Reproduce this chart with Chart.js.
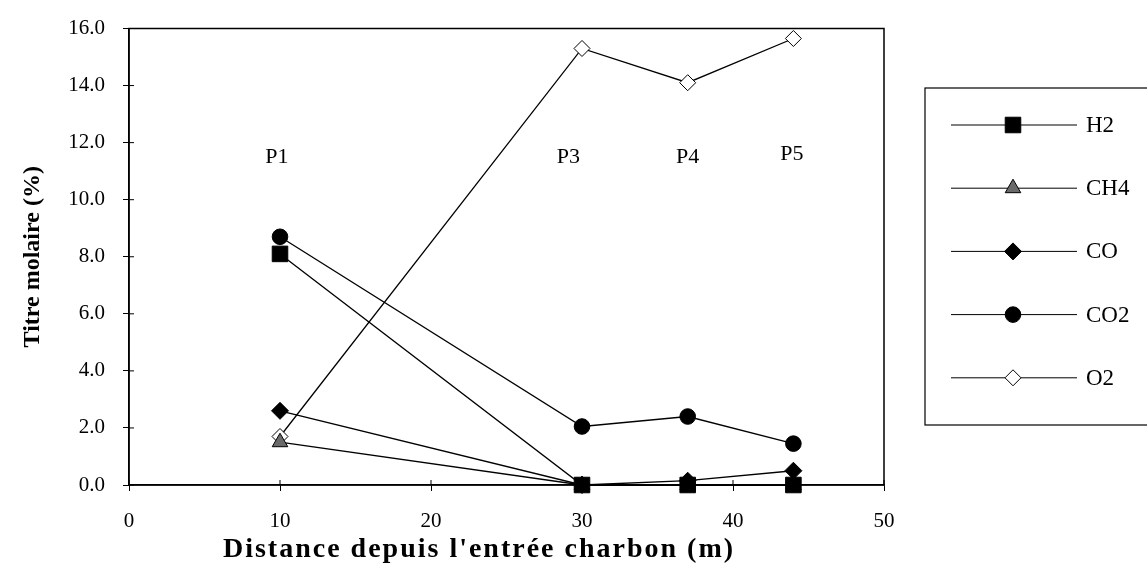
<!DOCTYPE html>
<html>
<head>
<meta charset="utf-8">
<script src="https://cdn.jsdelivr.net/npm/chart.js@4/dist/chart.umd.min.js"></script>
<style>
  html, body { margin: 0; padding: 0; background: #fff; }
  #wrap { width: 1147px; height: 580px; }
</style>
</head>
<body>
<div id="wrap"><canvas id="grafica-gaz"></canvas></div>
<script>
// Données
const distances = [10, 30, 37, 44];
const serieH2 = [8.1, 0, 0, 0];
const serieCH4 = [1.5, 0, 0, 0];
const serieCO = [2.6, 0, 0.15, 0.5];
const serieCO2 = [8.7, 2.05, 2.4, 1.45];
const serieO2 = [1.7, 15.3, 14.1, 15.65];
const nomsSeries = ['H2', 'CH4', 'CO', 'CO2', 'O2'];

// Étiquettes des points de prélèvement (coordonnées en unités du graphique)
const etiquettesP = ['P1', 'P3', 'P4', 'P5'];
const etiquettesPX = [9.8, 29.1, 37.0, 43.9];
const etiquettesPY = [11.5, 11.5, 11.5, 11.6];

const titreX = "Distance depuis l'entrée charbon (m)";
const POLICE = "'Liberation Serif', 'DejaVu Serif', serif";

function versPoints(valeurs) {
    return distances.map((d, i) => ({ x: d, y: valeurs[i] }));
}

const styles = [
    { style: 'rect', rayon: 11, fond: '#000' },
    { style: 'triangle', rayon: 9, fond: '#6a6a6a' },
    { style: 'rectRot', rayon: 8.5, fond: '#000' },
    { style: 'circle', rayon: 7.8, fond: '#000' },
    { style: 'rectRot', rayon: 8, fond: '#fff' }
];
const series = [serieH2, serieCH4, serieCO, serieCO2, serieO2];

const datasets = series.map((s, i) => ({
    label: nomsSeries[i],
    data: versPoints(s),
    borderColor: '#000',
    borderWidth: 1.3,
    pointStyle: styles[i].style,
    pointRadius: styles[i].rayon,
    pointBackgroundColor: styles[i].fond,
    pointBorderColor: '#000',
    pointBorderWidth: 1,
    fill: false,
    tension: 0,
    clip: false
}));

// Cadre autour de la zone de tracé + étiquettes P1..P5 + titre X + légende encadrée
const pluginDecor = {
    id: 'decor',
    afterDraw(chart) {
        const ctx = chart.ctx;
        const zone = chart.chartArea;
        const sx = chart.scales.x, sy = chart.scales.y;
        ctx.save();
        ctx.strokeStyle = '#000';
        ctx.lineWidth = 1.5;
        ctx.strokeRect(zone.left, zone.top, zone.right - zone.left, zone.bottom - zone.top);

        // petites marques vers l'intérieur
        ctx.lineWidth = 1;
        sy.ticks.forEach(t => {
            const y = sy.getPixelForValue(t.value);
            ctx.beginPath(); ctx.moveTo(zone.left, y); ctx.lineTo(zone.left + 5, y); ctx.stroke();
        });
        sx.ticks.forEach(t => {
            const x = sx.getPixelForValue(t.value);
            ctx.beginPath(); ctx.moveTo(x, zone.bottom); ctx.lineTo(x, zone.bottom - 5); ctx.stroke();
        });

        ctx.fillStyle = '#000';
        ctx.font = '22px ' + POLICE;
        ctx.textAlign = 'center';
        ctx.textBaseline = 'middle';
        etiquettesP.forEach((txt, i) => {
            ctx.fillText(txt, sx.getPixelForValue(etiquettesPX[i]), sy.getPixelForValue(etiquettesPY[i]));
        });

        // titre de l'axe X
        ctx.save();
        ctx.font = 'bold 28px ' + POLICE;
        ctx.letterSpacing = '2px';
        ctx.fillText(titreX, 479, 550);
        ctx.restore();

        // légende
        const boite = { x: 925, y: 88, w: 240, h: 337 };
        ctx.lineWidth = 1.2;
        ctx.strokeRect(boite.x, boite.y, boite.w, boite.h);
        const pas = 63.2;
        ctx.font = '23px ' + POLICE;
        ctx.textAlign = 'left';
        chart.data.datasets.forEach((ds, i) => {
            const y = 125 + i * pas;
            ctx.lineWidth = 1;
            ctx.strokeStyle = '#000';
            ctx.beginPath(); ctx.moveTo(951, y); ctx.lineTo(1077, y); ctx.stroke();
            ctx.fillStyle = ds.pointBackgroundColor;
            Chart.helpers.drawPoint(ctx, { pointStyle: ds.pointStyle, radius: ds.pointRadius, borderWidth: 1, rotation: 0 }, 1013, y);
            ctx.fillStyle = '#000';
            ctx.fillText(ds.label, 1086, y + 1);
        });
        ctx.restore();
    }
};

window.addEventListener('DOMContentLoaded', () => {
    const ctx = document.getElementById('grafica-gaz').getContext('2d');
    new Chart(ctx, {
        type: 'line',
        data: { datasets: datasets },
        options: {
            responsive: true,
            maintainAspectRatio: false,
            animation: false,
            layout: { padding: { top: 18, right: 263, left: 14, bottom: 0 } },
            plugins: {
                legend: { display: false },
                tooltip: { enabled: false }
            },
            scales: {
                x: {
                    type: 'linear',
                    min: 0,
                    max: 50,
                    ticks: {
                        stepSize: 10,
                        color: '#000',
                        padding: 18,
                        font: { family: POLICE, size: 21 }
                    },
                    grid: { drawOnChartArea: false, tickLength: 6, color: '#000' },
                    border: { color: '#000', width: 1.5 },
                    afterFit(scale) { scale.height = 95; }
                },
                y: {
                    min: 0,
                    max: 16,
                    ticks: {
                        stepSize: 2,
                        color: '#000',
                        padding: 18,
                        font: { family: POLICE, size: 21, lineHeight: 1 },
                        callback: v => v.toFixed(1)
                    },
                    grid: { drawOnChartArea: false, tickLength: 6, color: '#000' },
                    border: { color: '#000', width: 1.5 },
                    title: {
                        display: true,
                        text: 'Titre molaire (%)',
                        color: '#000',
                        font: { family: POLICE, size: 24, weight: 'bold' },
                        padding: { top: 4, bottom: 4 }
                    },
                    afterFit(scale) { scale.width = 115; }
                }
            }
        },
        plugins: [pluginDecor]
    });
});
</script>
</body>
</html>
